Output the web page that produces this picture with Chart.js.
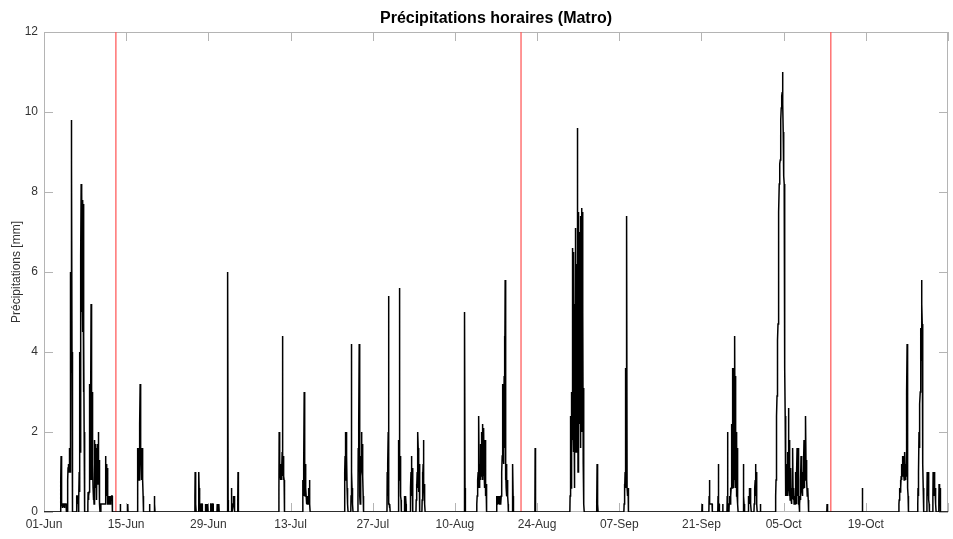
<!DOCTYPE html>
<html>
<head>
<meta charset="utf-8">
<script src="https://cdn.jsdelivr.net/npm/chart.js@4.4.1/dist/chart.umd.min.js"></script>
<style>
  html, body { margin: 0; padding: 0; background: #fff; }
  canvas { display: block; }
</style>
</head>
<body>
<canvas id="c" width="953" height="539"></canvas>
<script>
// ---- Data (hours counted from 01-Jun 00:00) ----
const chartTitle = 'Précipitations horaires (Matro)';
const yTitle = 'Précipitations [mm]';
const tickLabels = ['01-Jun', '15-Jun', '29-Jun', '13-Jul', '27-Jul', '10-Aug', '24-Aug', '07-Sep', '21-Sep', '05-Oct', '19-Oct'];
const tickStepHours = 336;
const periodHours = 3648;
const markerHours = [290, 1925, 3175];

// start hour of each rainy spell, and the hourly amounts (mm) that follow
const rainStart = [
  67, 95, 131, 141, 177, 230, 308, 338, 377, 426, 445,
  609, 624, 637, 651, 659, 673, 680, 699, 705, 740, 756, 763, 782,
  948, 1044, 1213, 1239, 1267, 1385, 1430, 1454, 1459, 1478, 1502, 1526,
  1696, 1746, 1826, 1890, 1981, 2123, 2230, 2341,
  2656, 2684, 2720, 2739, 2757, 2765, 2822, 2842, 2866, 2891,
  2952, 3050, 3160, 3302, 3450, 3526, 3563, 3587, 3611
];
const rainMm = [
  [0.3,0.8,1.4,1.2,0.3,0.2,0.2,0.2,0.2,0.1,0.2,0.2,0.2,0.2,0.2,0.1,0.2,0.2,0.2,0.2,0.2,0.2,0.2,0.2],
  [0.4,0.8,1.1,1.2,1.1,1.2,1.0,1.2,1.1,1.6,1.0,1.6,1.5,6.0,3.5,9.8,6.0,8.7,4.0,1.2,0.3],
  [0.4,0.3,0.4,0.4,0.2,0.4,0.3,0.4,0.4],
  [0.3,1.0,0.5,2.0,4.0,1.5,5.7,3.0,6.4,8.2,5.0,7.9,8.0,6.0,7.8,4.5,7.8,6.0,7.7,3.0,4.4,2.0,0.5,0.2],
  [0.2,0.5,0.3,0.5,0.4,0.5,1.2,2.0,3.2,1.5,0.8,1.0,2.5,5.2,2.9,1.5,0.8,1.6,2.2,3.0,1.2,0.6,0.3,0.6,0.6,0.2,0.6,1.0,1.8,0.9,1.2,0.6,1.7,1.2,0.6,0.8,0.3,1.6,0.9,1.2,1.7,0.7,1.4,2.0,1.0,1.3,0.6,0.2,0.2],
  [0.2,0.2,0.2,0.2,0.2,0.2,0.2,0.2,0.2,0.2,0.2,0.2,0.2,0.2,0.2,0.2,0.2,0.2,0.6,1.4,1.0,0.8,1.2,0.6,0.4,1.1,0.4,0.6,0.2,0.2,0.2,0.4,0.4,0.3,0.4,0.4,0.4,0.2,0.4,0.4,0.4,0.3,0.4,0.4,0.4,0.4],
  [0.2],
  [0.2],
  [0.4,1.6,1.0,1.4,1.6,1.2,1.4,0.8,1.5,1.6,2.2,3.2,1.8,2.6,1.6,1.2,0.8,1.0,1.2,1.6,0.8,0.8,0.8,0.4,0.2],
  [0.2],
  [0.2,0.4,0.2],
  [0.4,1.0,0.6,0.3,0.2],
  [0.3,1.0,0.6,0.4,0.4,0.2,0.2],
  [0.2,0.2],
  [0.2,0.2,0.1,0.2],
  [0.2,0.2,0.2],
  [0.2,0.2,0.2],
  [0.2,0.2,0.2],
  [0.2,0.2,0.2],
  [0.2,0.2],
  [0.2,0.4,6.0,0.3],
  [0.3,0.6,0.2],
  [0.2,0.4,0.2,0.3,0.2,0.4,0.2],
  [0.4,1.0,0.2],
  [0.6,2.0,1.0,1.6,0.9,1.0,0.8,1.2,0.9,1.0,0.8,1.2,1.0,1.5,4.4,1.0,0.9,1.4,0.8,1.4,0.9,0.8,0.2],
  [0.3,0.8,0.5,0.4,0.8,1.2,3.0,1.4,0.8,0.6,0.4,0.8,1.2,0.6,0.4,0.2,0.2,0.4,0.2,0.4,0.3,0.4,0.2,0.4,0.2,0.6,0.4,0.8,0.4,0.2],
  [0.4,1.0,1.4,2.0,1.2,1.4,0.8,1.1,2.0,1.4,0.6,0.3,0.3,0.2],
  [0.4,1.2,4.2,1.0,0.6,0.4,0.6,0.2],
  [0.4,1.6,1.0,1.4,2.2,4.2,1.0,0.6,0.4,0.2,0.6,0.8,1.0,1.4,1.8,2.0,1.2,1.0,1.4,1.7,0.9,0.4,0.2],
  [1.0,0.4,0.6,1.2,2.0,5.4,0.3,0.2,0.2,0.1,0.2,0.2],
  [0.6,1.8,1.0,0.8,2.0,5.6,1.2,1.4,0.6,1.0,0.4,0.3],
  [0.2,0.4,0.2],
  [0.2,0.4,0.2],
  [0.2,0.4,0.6,1.0,0.8,1.4,0.4,0.6,0.8,1.1,0.3],
  [0.3,0.7,0.4,0.6,1.0,0.6,1.4,2.0,1.6,0.8,0.5,0.7,1.2,0.6,0.2],
  [0.3,0.6,1.0,0.8,1.2,0.9,1.8,0.7,0.5,0.4,0.7,0.2],
  [0.2,0.4,5.0,0.6,0.2],
  [0.2,0.2,0.4,0.6,0.4,0.8,1.0,0.6,1.5,2.4,1.0,0.6,0.8,1.2,1.0,1.7,0.8,1.4,0.9,1.2,2.0,1.0,1.4,0.8,2.2,1.2,1.6,0.9,1.4,2.1,1.0,0.8,1.2,0.6,1.8,1.0,0.4,0.6,0.7,0.3,0.2],
  [0.2,0.4,0.2,0.2,0.4,0.4,0.3,0.4,0.4,0.4,0.2,0.4,0.2,0.2,0.2,0.2,0.4,0.4,0.2,0.4,0.6,0.8,1.0,1.4,1.6,3.2,2.0,1.5,1.2,1.7,2.4,3.4,1.6,4.4,3.0,5.8,1.4,0.8,1.2,0.6,0.4,1.2,0.5,0.4,0.8,0.8,0.4,0.2],
  [0.4,0.6,1.2,0.4,0.2],
  [0.2,1.6,0.2],
  [0.4,2.4,1.0,2.4,0.6,2.0,1.4,3.0,2.0,4.0,1.8,6.6,2.2,6.4,1.5,6.5,2.5,5.2,0.6,4.8,2.0,7.1,2.6,6.0,1.5,5.0,2.8,6.2,3.0,9.6,2.0,6.8,1.0,5.5,7.5,2.8,6.8,2.2,7.0,2.5,4.6,1.6,6.0,3.3,7.4,2.6,5.4,2.0,7.6,3.0,7.5,3.0,5.0,1.2,3.1,0.5,0.2],
  [0.3,0.2,1.2,0.4,0.8,0.2],
  [0.2,0.6,0.7,0.5,1.0,3.6,1.2,0.6,2.8,1.0,4.0,7.4,0.6,0.5,0.6,0.4,0.6,0.2],
  [0.2],
  [0.4,0.8,0.2,0.2,0.2,0.2,0.2,0.2,0.2,0.2,0.2,0.2,0.2],
  [0.4,1.2,0.2,0.2,0.2,0.2],
  [0.2],
  [0.4,2.0,0.2],
  [0.2,0.2,0.2,0.4,0.2,0.6,0.2,0.4,0.6,0.8,1.0,2.2,0.6,1.6,3.6,0.8,2.2,3.4,0.6,2.8,3.6,0.8,4.0,4.4,1.0,2.2,3.4,0.6,2.0,1.2,1.6,0.4,0.4,1.6,0.6,0.2],
  [0.3,1.2,0.4,0.2,0.2,0.2],
  [0.2,0.4,0.2,0.3,0.4,0.2,0.6,0.4,0.2,0.4,0.6,0.2],
  [0.2,0.4,0.2,0.6,0.8,1.2,0.4,0.6,1.0,1.0,0.4,0.2],
  [0.2],
  [0.2,0.4,0.8,1.2,1.8,2.4,2.9,3.4,3.8,4.3,4.7,5.1,5.9,6.7,7.5,8.2,8.4,8.6,8.7,8.8,9.1,9.5,9.8,10.1,10.2,10.3,10.4,10.5,10.8,11.0,10.2,9.5,8.8,8.6,8.4,8.2,6.4,4.7,3.6,2.4,1.5,
   0.8,0.4,0.6,1.2,0.4,0.6,0.8,1.5,0.6,0.4,1.0,1.4,2.6,1.0,0.6,1.8,0.4,0.6,0.3,0.6,0.4,1.1,0.3,0.6,0.2,0.3,0.4,0.6,0.8,1.6,0.4,0.3,0.4,0.6,0.2,0.2,0.4,0.3,0.2,0.4,0.6,1.0,0.4,0.2,0.6,1.0,1.6,0.6,0.4,1.0,1.6,0.8,0.4,0.2,0.2],
  [0.2,0.4,0.3,0.6,0.8,1.4,0.6,0.9,1.2,0.5,0.8,0.4,1.0,0.6,1.4,0.8,1.2,1.8,0.6,1.0,1.4,0.8,1.6,2.0,2.4,1.2,0.8,1.0,1.3,0.8,0.4,0.6,0.4,0.6,0.3,0.2],
  [0.2,0.2,0.2],
  [0.6,0.6],
  [0.2,0.3,0.5,0.4,0.6,0.5,0.7,0.8,0.6,0.9,1.0,0.8,1.2,0.9,1.1,1.0,1.4,1.2,0.9,1.4,1.0,0.8,1.2,1.0,1.5,1.0,0.8,1.2,1.0,0.9,1.2,2.0,3.0,4.2,2.0,1.0,0.6,0.4,0.2],
  [0.2,0.6,0.4,0.6,1.0,2.0,1.6,2.0,2.4,2.7,3.0,3.6,4.0,4.6,3.8,4.0,5.8,5.2,4.7,3.4,2.3,1.2,0.6,0.4,0.2],
  [0.4,1.0,0.6,0.4,0.6,0.8,1.0,0.6,0.3,0.2],
  [0.4,1.0,0.5,0.6,0.4,0.8,1.0,0.6,0.4,0.5,0.5,0.6,0.2],
  [0.3,0.7,0.4,0.3,0.4,0.6,0.2]
];

// ---- Build the hourly series (dry hours are 0 mm) ----
const rainPoints = [{ x: 0, y: 0 }];
rainStart.forEach((start, i) => {
  const vals = rainMm[i];
  rainPoints.push({ x: start - 1, y: 0 });
  vals.forEach((mm, j) => rainPoints.push({ x: start + j, y: mm }));
  rainPoints.push({ x: start + vals.length, y: 0 });
});
rainPoints.push({ x: periodHours, y: 0 });

const markerSets = markerHours.map(h => ({
  data: [{ x: h, y: 0 }, { x: h, y: 12 }],
  borderColor: 'rgba(255, 90, 90, 0.85)',
  borderWidth: 1.5,
  pointRadius: 0,
  order: 2
}));

const FONT = "'Liberation Sans', Arial, Helvetica, sans-serif";
const AXIS_GREY = '#b4b4b4';

const framePlugin = {
  id: 'frame',
  beforeDatasetsDraw(chart) {
    const { ctx, chartArea: a, scales: { x, y } } = chart;
    const L = 9;
    ctx.save();
    ctx.strokeStyle = AXIS_GREY;
    ctx.lineWidth = 1;
    ctx.strokeRect(a.left + 0.5, a.top + 0.5, a.right - a.left - 1, a.bottom - a.top - 1);
    ctx.beginPath();
    x.ticks.forEach(t => {
      const px = Math.round(x.getPixelForValue(t.value)) + 0.5;
      ctx.moveTo(px, a.bottom); ctx.lineTo(px, a.bottom - L);
      ctx.moveTo(px, a.top); ctx.lineTo(px, a.top + L);
    });
    y.ticks.forEach(t => {
      const py = Math.round(y.getPixelForValue(t.value)) + 0.5;
      ctx.moveTo(a.left, py); ctx.lineTo(a.left + L, py);
      ctx.moveTo(a.right, py); ctx.lineTo(a.right - L, py);
    });
    ctx.stroke();
    ctx.restore();
  }
};

new Chart(document.getElementById('c'), {
  type: 'line',
  data: {
    datasets: [
      {
        data: rainPoints,
        borderColor: '#000',
        borderWidth: 1.5,
        pointRadius: 0,
        tension: 0,
        order: 1
      },
      ...markerSets
    ]
  },
  options: {
    responsive: false,
    animation: false,
    devicePixelRatio: 1,
    layout: { padding: { left: 0, right: 2, top: 0, bottom: 0 } },
    plugins: {
      legend: { display: false },
      tooltip: { enabled: false },
      title: {
        display: true,
        fullSize: false,
        text: chartTitle,
        color: '#000',
        font: { family: FONT, size: 16, weight: 'bold' },
        padding: { top: 9, bottom: 3.8 }
      }
    },
    scales: {
      x: {
        type: 'linear',
        min: 0,
        max: periodHours,
        afterFit: s => { s.height = 27; },
        grid: { display: false, drawTicks: false },
        border: { display: false },
        ticks: {
          stepSize: tickStepHours,
          includeBounds: false,
          autoSkip: false,
          maxRotation: 0,
          padding: 5,
          color: '#333',
          font: { family: FONT, size: 12 },
          callback: v => tickLabels[Math.round(v / tickStepHours)] ?? ''
        }
      },
      y: {
        type: 'linear',
        min: 0,
        max: 12,
        afterFit: s => { s.width = 44; },
        grid: { display: false, drawTicks: false },
        border: { display: false },
        ticks: {
          stepSize: 2,
          padding: 6,
          color: '#333',
          font: { family: FONT, size: 12 }
        },
        title: {
          display: true,
          text: yTitle,
          color: '#333',
          font: { family: FONT, size: 12 },
          padding: { top: 9, bottom: 0 }
        }
      }
    }
  },
  plugins: [framePlugin]
});
</script>
</body>
</html>
